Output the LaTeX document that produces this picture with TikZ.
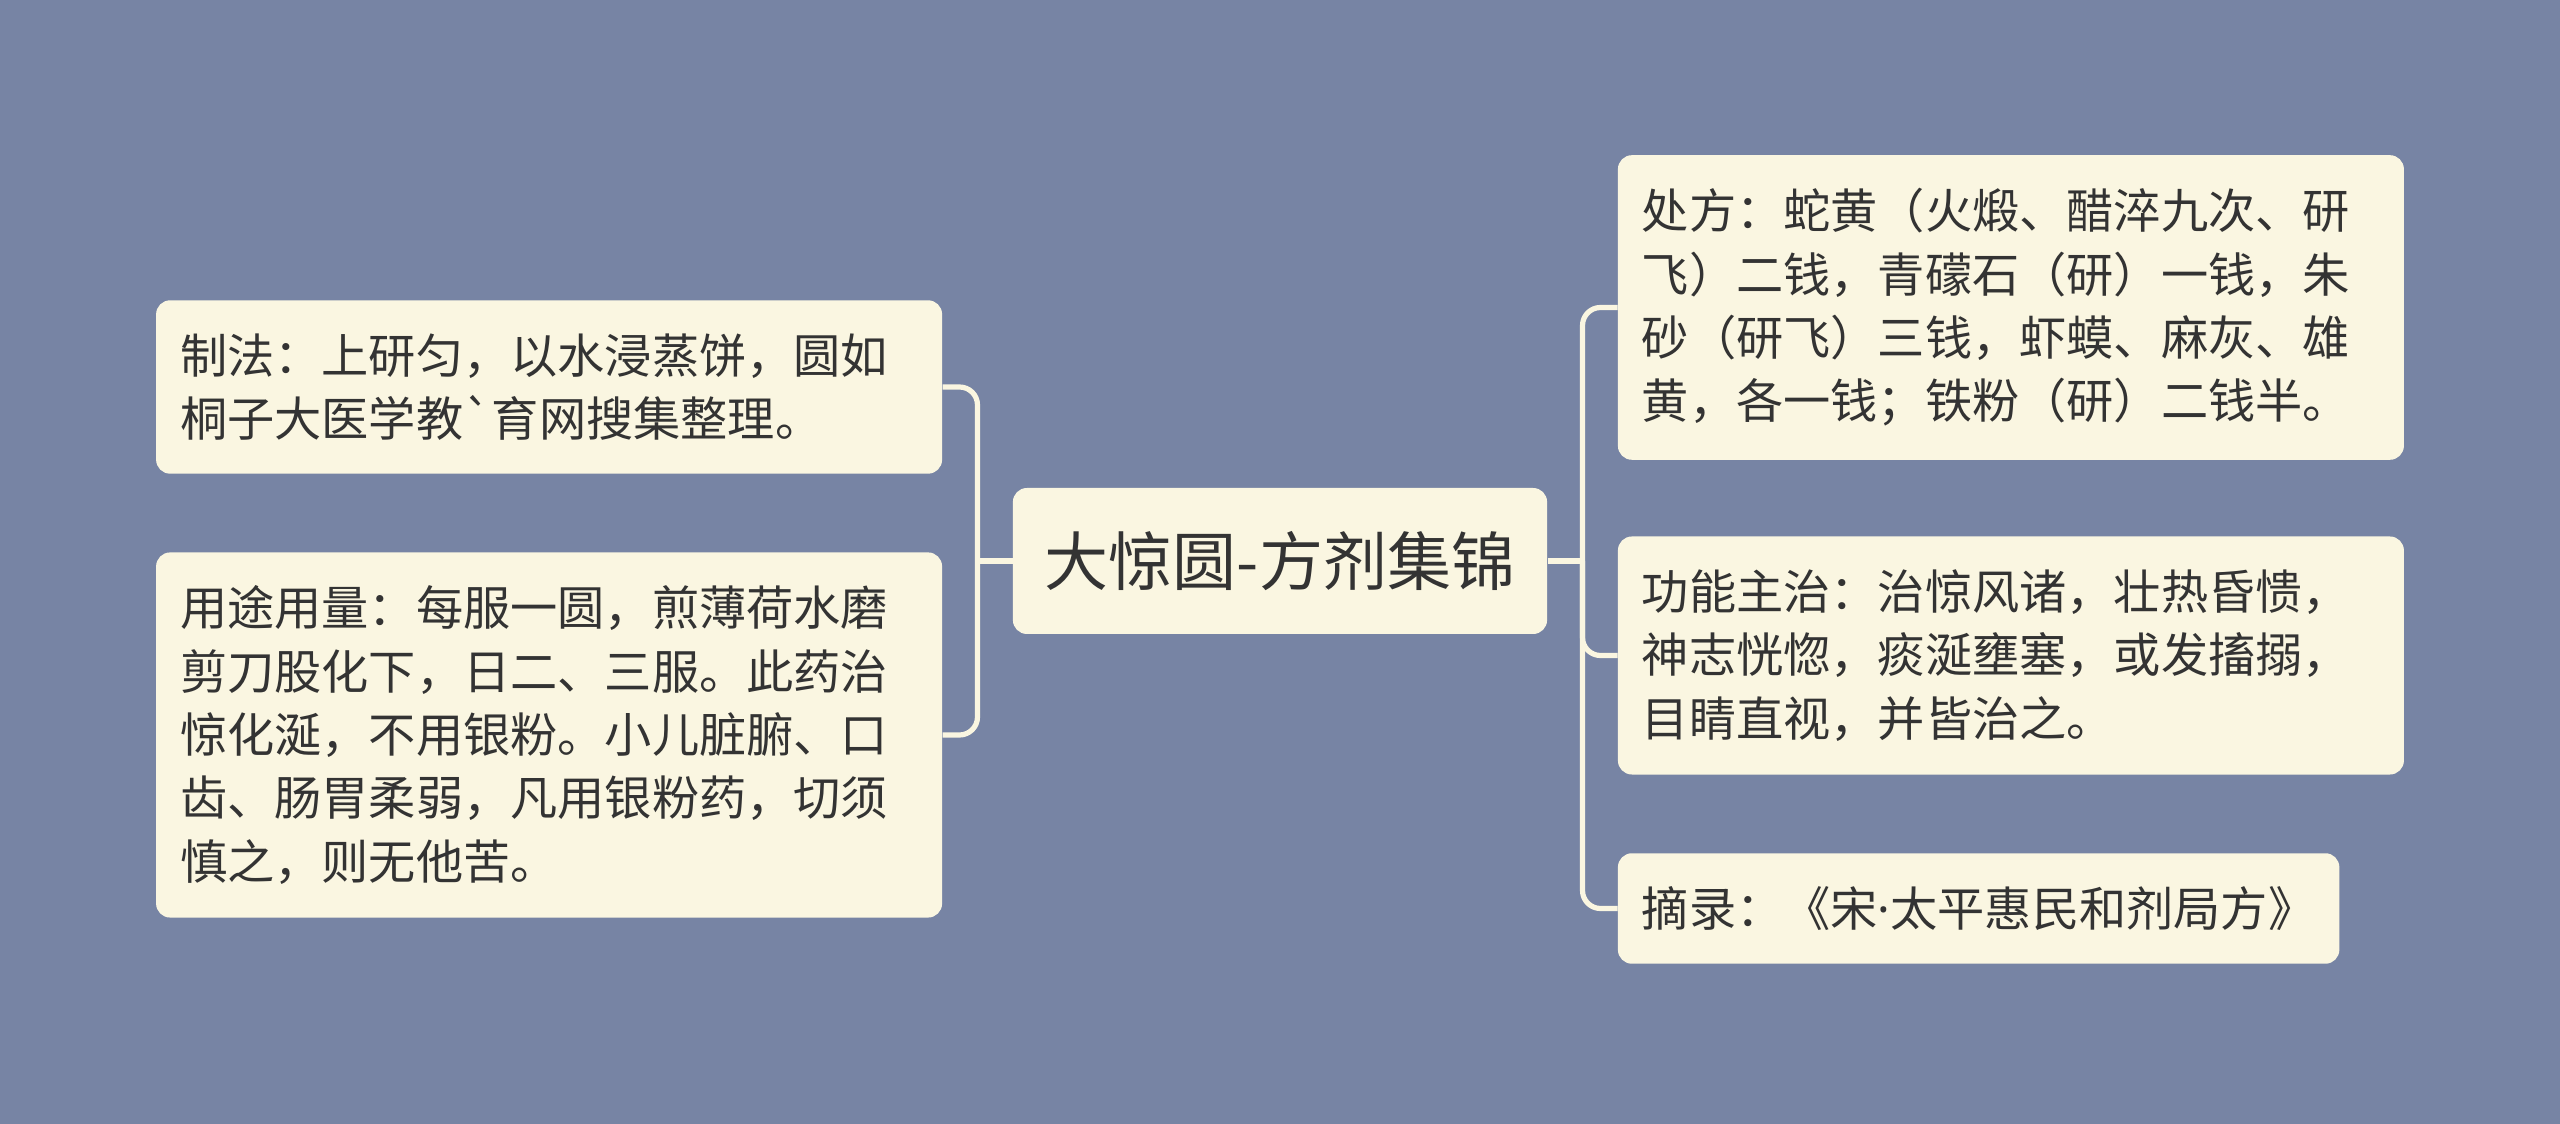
\documentclass[tikz,border=0pt]{standalone}
\usepackage{fontspec}
\setmainfont{Noto Sans CJK SC}[Ligatures=TeXOff]
\newfontfamily\latin{Noto Sans}
\usetikzlibrary{positioning}
\definecolor{cBg}{HTML}{7784A4}
\definecolor{cCard}{HTML}{FAF6E1}
\definecolor{cInk}{HTML}{333333}
\definecolor{cLink}{HTML}{FAF6E1}
\tikzset{
  root/.style={rounded corners=7pt, fill=cCard, text=cInk, font=\fontsize{32pt}{38pt}\selectfont, inner xsep=16pt, minimum height=73pt},
  leaf/.style={rounded corners=7pt, fill=cCard, text=cInk, font=\fontsize{23.6pt}{31.7pt}\selectfont, align=left, inner xsep=12pt, inner ysep=16.6pt},
  wide/.style={text width=369pt},
  link/.style={line width=2.6pt, draw=cLink, rounded corners=9pt},
}

\begin{document}
\begin{tikzpicture}
\fill[cBg] (0,0) rectangle (1280pt,562pt);
\useasboundingbox (0,0) rectangle (1280pt,562pt);
\node[root] (ctr) at (640pt,281.5pt) {大惊圆-方剂集锦};
% left branch
\node[leaf, wide, left=35pt of ctr, yshift=87pt] (zf) {制法：上研匀，以水浸蒸饼，圆如\\桐子大医学教`育网搜集整理。};
\node[leaf, wide, left=35pt of ctr, yshift=-87pt] (yt) {用途用量：每服一圆，煎薄荷水磨\\剪刀股化下，日二、三服。此药治\\惊化涎，不用银粉。小儿脏腑、口\\齿、肠胃柔弱，凡用银粉药，切须\\慎之，则无他苦。};
% right branch
\node[leaf, wide, right=35pt of ctr, yshift=126.75pt] (cf) {处方：蛇黄（火煅、醋淬九次、研\\飞）二钱，青礞石（研）一钱，朱\\砂（研飞）三钱，虾蟆、麻灰、雄\\黄，各一钱；铁粉（研）二钱半。};
\node[leaf, wide, right=35pt of ctr, yshift=-47.25pt] (gn) {功能主治：治惊风诸，壮热昏愦，\\神志恍惚，痰涎壅塞，或发搐搦，\\目睛直视，并皆治之。};
\node[leaf, right=35pt of ctr, yshift=-173.75pt] (zl) {摘录：《宋{\latin ·}太平惠民和剂局方》};
\coordinate (jl) at ([xshift=-17.5pt]ctr.west);
\coordinate (jr) at ([xshift=17.5pt]ctr.east);
\draw[link] (ctr.west) -- (jl);
\draw[link] (jl) |- (zf.east);
\draw[link] (jl) |- (yt.east);
\draw[link] (ctr.east) -- (jr);
\draw[link] (jr) |- (cf.west);
\draw[link] (jr) |- (gn.west);
\draw[link] (jr) |- (zl.west);
\end{tikzpicture}
\end{document}
